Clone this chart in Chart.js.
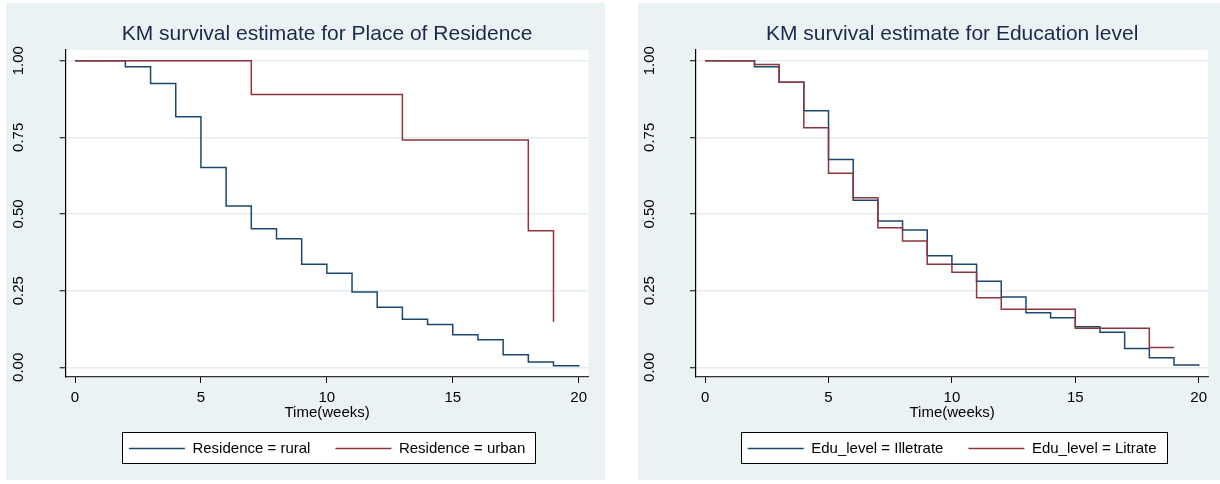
<!DOCTYPE html>
<html>
<head>
<meta charset="utf-8">
<script src="https://cdn.jsdelivr.net/npm/chart.js@4/dist/chart.umd.min.js"></script>
<style>
  html, body { margin: 0; padding: 0; background: #ffffff; }
  body { width: 1220px; height: 484px; position: relative; overflow: hidden; }
  .panel { position: absolute; top: 3px; height: 477px; background: #eaf2f3; }
  #p1 { left: 6px; width: 599px; }
  #p2 { left: 638px; width: 582px; }
  canvas { display: block; }
</style>
</head>
<body>
<div class="panel" id="p1"><canvas id="kmResidence" width="599" height="477"></canvas></div>
<div class="panel" id="p2"><canvas id="kmEducation" width="582" height="477"></canvas></div>
<script>
// Axis tick values
const weekTicks = [0, 5, 10, 15, 20];
const survTicks = [0, 0.25, 0.5, 0.75, 1];

// Kaplan-Meier estimates: event times (weeks) and survival after each event
const ruralWeeks = [0, 2, 3, 4, 5, 6, 7, 8, 9, 10, 11, 12, 13, 14, 15, 16, 17, 18, 19, 20];
const ruralSurv  = [1, 0.980, 0.926, 0.817, 0.652, 0.526, 0.452, 0.419, 0.336, 0.307, 0.246, 0.196, 0.157, 0.140, 0.106, 0.090, 0.041, 0.017, 0.005, 0.002];
const urbanWeeks = [0, 7, 13, 18, 19];
const urbanSurv  = [1, 0.890, 0.741, 0.445, 0.149];

const illitWeeks = [0, 2, 3, 4, 5, 6, 7, 8, 9, 10, 11, 12, 13, 14, 15, 16, 17, 18, 19, 20];
const illitSurv  = [1, 0.980, 0.930, 0.837, 0.678, 0.545, 0.477, 0.448, 0.364, 0.336, 0.281, 0.229, 0.178, 0.162, 0.132, 0.114, 0.061, 0.031, 0.0075, 0.004];
const litWeeks   = [0, 2, 3, 4, 5, 6, 7, 8, 9, 10, 11, 12, 15, 18, 19];
const litSurv    = [1, 0.988, 0.930, 0.781, 0.633, 0.553, 0.455, 0.412, 0.336, 0.310, 0.227, 0.189, 0.127, 0.065, 0.065];

const NAVY = '#1a476f';
const MAROON = '#90353b';

Chart.defaults.font.family = "'Liberation Sans', Arial, sans-serif";
Chart.defaults.color = '#000';

function toPoints(xs, ys) {
  return xs.map((x, i) => ({ x: x, y: ys[i] }));
}

// White plot region plus a framed legend box
const panelDecor = {
  id: 'panelDecor',
  beforeDraw(chart) {
    const { ctx, chartArea: a, legend } = chart;
    ctx.save();
    ctx.fillStyle = '#ffffff';
    ctx.fillRect(a.left, a.top, a.right - a.left, a.bottom - a.top);
    const hb = legend && legend.legendHitBoxes;
    if (hb && hb.length) {
      const first = hb[0];
      const last = hb[hb.length - 1];
      const mid = first.top + first.height / 2;
      const x0 = Math.round(first.left - 7) + 0.5;
      const x1 = Math.round(last.left + last.width + 10) + 0.5;
      const y0 = Math.round(mid - 16.8) + 0.5;
      const y1 = Math.round(mid + 14.5) + 0.5;
      ctx.fillRect(x0, y0, x1 - x0, y1 - y0);
      ctx.strokeStyle = '#000';
      ctx.lineWidth = 1;
      ctx.strokeRect(x0, y0, x1 - x0, y1 - y0);
    }
    ctx.restore();
  }
};

function kmChart(canvasId, titleText, series, frame) {
  return new Chart(document.getElementById(canvasId), {
    type: 'line',
    data: {
      datasets: series.map(s => ({
        label: s.label,
        data: toPoints(s.weeks, s.surv),
        borderColor: s.color,
        backgroundColor: s.color,
        borderWidth: 1.5,
        pointRadius: 0,
        pointHoverRadius: 0,
        stepped: 'before',
        fill: false,
        order: s.order
      }))
    },
    options: {
      responsive: false,
      animation: false,
      devicePixelRatio: 1,
      events: [],
      layout: { padding: { left: 0, top: 0, right: frame.right, bottom: 14 } },
      scales: {
        x: {
          type: 'linear',
          min: -0.37,
          max: 20.39,
          afterBuildTicks: s => { s.ticks = weekTicks.map(v => ({ value: v })); },
          afterFit: s => { s.height = 39; },
          ticks: {
            font: { size: 15 }, color: '#000', padding: 5.5,
            autoSkip: false, minRotation: 0, maxRotation: 0,
            callback: v => String(v)
          },
          grid: { drawOnChartArea: false, drawTicks: true, tickLength: 6, tickColor: '#000', tickWidth: 1 },
          border: { display: true, color: '#333', width: 1.2 },
          title: {
            display: true, text: 'Time(weeks)', color: '#000',
            font: { size: 15 }, padding: { top: 0, bottom: -5.8 }
          }
        },
        y: {
          type: 'linear',
          min: -0.0316,
          max: 1.0349,
          afterBuildTicks: s => { s.ticks = survTicks.map(v => ({ value: v })); },
          afterFit: s => { s.width = frame.left; },
          ticks: {
            font: { size: 15 }, color: '#000', padding: frame.tickPad,
            autoSkip: false, minRotation: 90, maxRotation: 90, crossAlign: 'center',
            callback: v => Number(v).toFixed(2)
          },
          grid: { color: '#e3ecee', lineWidth: 1.5, drawTicks: true, tickLength: 6, tickColor: '#000', tickWidth: 1 },
          border: { display: true, color: '#000', width: 1.2 }
        }
      },
      plugins: {
        title: {
          display: true,
          text: titleText,
          fullSize: false,
          color: '#1b2a4a',
          font: { size: 21, weight: 'normal' },
          padding: { top: 18.8, bottom: 3 }
        },
        legend: {
          position: 'bottom',
          fullSize: false,
          align: 'center',
          labels: {
            usePointStyle: true,
            pointStyle: 'line',
            pointStyleWidth: 56,
            boxHeight: 15,
            padding: 25,
            color: '#000',
            font: { size: 15 },
            sort: (a, b) => a.datasetIndex - b.datasetIndex
          }
        },
        tooltip: { enabled: false }
      }
    },
    plugins: [panelDecor]
  });
}

kmChart('kmResidence', 'KM survival estimate for Place of Residence', [
  { label: 'Residence = rural', weeks: ruralWeeks, surv: ruralSurv, color: NAVY, order: 2 },
  { label: 'Residence = urban', weeks: urbanWeeks, surv: urbanSurv, color: MAROON, order: 1 }
], { left: 59.7, right: 16.5, tickPad: 25.9 });

kmChart('kmEducation', 'KM survival estimate for Education level', [
  { label: 'Edu_level = Illetrate', weeks: illitWeeks, surv: illitSurv, color: NAVY, order: 2 },
  { label: 'Edu_level = Litrate', weeks: litWeeks, surv: litSurv, color: MAROON, order: 1 }
], { left: 58, right: 11.7, tickPad: 25.4 });
</script>
</body>
</html>
